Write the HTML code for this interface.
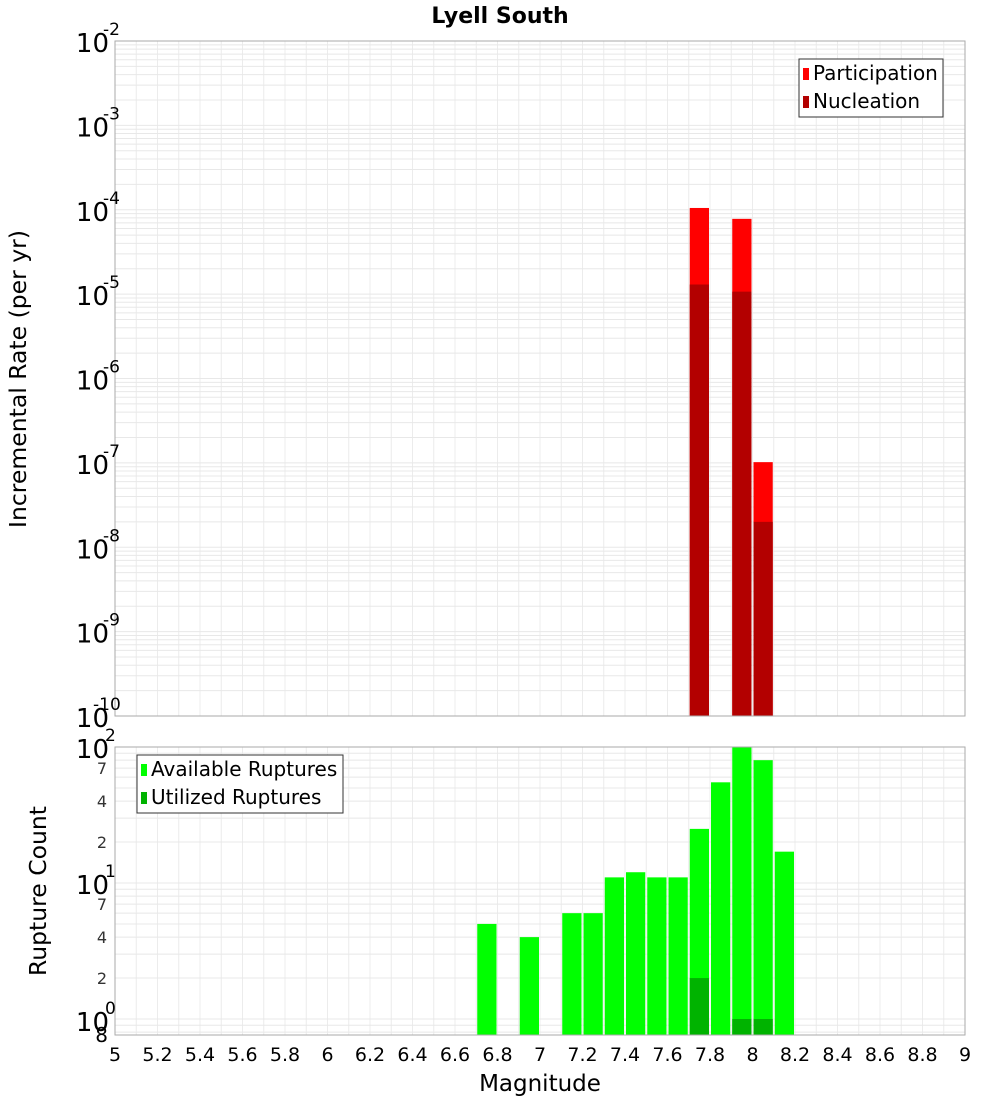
<!DOCTYPE html>
<html><head><meta charset="utf-8">
<style>
body{margin:0;background:#fff;}
svg{display:block;font-family:"DejaVu Sans","Liberation Sans",sans-serif;}
</style></head>
<body>
<svg id="chart" width="1000" height="1100"></svg>
<script>
// ---- data ----
const topMags = [7.75, 7.95, 8.05];
const participation = [1.05e-4, 7.8e-5, 1.02e-7];
const nucleation = [1.3e-5, 1.07e-5, 2.0e-8];
const botMags = [6.75, 6.95, 7.15, 7.25, 7.35, 7.45, 7.55, 7.65, 7.75, 7.85, 7.95, 8.05, 8.15];
const available = [5, 4, 6, 6, 11, 12, 11, 11, 25, 55, 100, 80, 17];
const utilMags = [7.75, 7.95, 8.05];
const utilized = [2, 1, 1];
const xTicks = [5,5.2,5.4,5.6,5.8,6,6.2,6.4,6.6,6.8,7,7.2,7.4,7.6,7.8,8,8.2,8.4,8.6,8.8,9];
const xTickLabels = ["5","5.2","5.4","5.6","5.8","6","6.2","6.4","6.6","6.8","7","7.2","7.4","7.6","7.8","8","8.2","8.4","8.6","8.8","9"];
const topExps = [-2,-3,-4,-5,-6,-7,-8,-9,-10];
const botMinor = [2,4,7,20,40,70];
const binWidth = 0.1;

const NS="http://www.w3.org/2000/svg";
const svg=document.getElementById('chart');
function mk(tag,attrs,parent){const e=document.createElementNS(NS,tag);for(const k in attrs)e.setAttribute(k,attrs[k]);(parent||svg).appendChild(e);return e;}

const L=115,R=965;
const T1=41,B1=716, T2=747,B2=1035;
const x=v=>L+(v-5)/4*(R-L);
const y1=v=>T1+(-2-Math.log10(v))/8*(B1-T1);
const dec2=136;
const y2=v=>Math.min(B2, T2+(2-Math.log10(v))*dec2);

let t=mk('text',{x:500,y:23,'text-anchor':'middle','font-size':22,'font-weight':'bold'});
t.textContent='Lyell South';



function grid(top,bot,yf,values,name){
  const g=mk('g',{});
  
  
  for(let v=5;v<=9.001;v+=0.1){const X=x(v);mk('line',{x1:X,x2:X,y1:top,y2:bot,stroke:'#ececec','stroke-width':1},g);}
  values.forEach(v=>{const Y=yf(v);if(Y>=top&&Y<=bot)mk('line',{x1:L,x2:R,y1:Y,y2:Y,stroke:'#e8e8e8','stroke-width':1},g);});
}
let tv=[];for(let e=-10;e<-2;e++)for(let m=1;m<10;m++)tv.push(m*Math.pow(10,e));
grid(T1,B1,y1,tv,'top-grid');
let bv=[];[0.1,1,10].forEach(d=>{for(let m=1;m<10;m++)bv.push(m*d)});bv.push(100);
grid(T2,B2,y2,bv,'bottom-grid');

const bw=binWidth*(R-L)/4;
function bar(mag,val,yf,base,color,name){
  const r=mk('rect',{x:x(mag)-bw/2+1,width:bw-2,y:yf(val),height:base-yf(val),fill:color});
  
  
}
topMags.forEach((m,i)=>bar(m,participation[i],y1,B1,'#ff0000','participation-bar'));
topMags.forEach((m,i)=>bar(m,nucleation[i],y1,B1,'#b30000','nucleation-bar'));
botMags.forEach((m,i)=>bar(m,available[i],y2,B2,'#00ff00','available-bar'));
utilMags.forEach((m,i)=>bar(m,utilized[i],y2,B2,'#00b300','utilized-bar'));

mk('rect',{x:L,y:T1,width:R-L,height:B1-T1,fill:'none',stroke:'#aaa'});
mk('rect',{x:L,y:T2,width:R-L,height:B2-T2,fill:'none',stroke:'#aaa'});

topExps.forEach(e=>{
  const Y=y1(Math.pow(10,e));
  const tx=mk('text',{x:109,y:Y+11,'text-anchor':'end','font-size':26});
  tx.textContent='10';
  
  
  const s=mk('text',{x:e===-10?93:103,y:Y-6,'text-anchor':'start','font-size':17});
  s.textContent=String(e);
  
  
});
[[100,'2'],[10,'1'],[1,'0']].forEach(([v,e])=>{
  const Y=v===1?1020:y2(v);
  const tx=mk('text',{x:109,y:Y+11,'text-anchor':'end','font-size':26});
  tx.textContent='10';
  
  
  const s=mk('text',{x:105,y:Y-6,'text-anchor':'start','font-size':17});
  s.textContent=e;
  
  
});
botMinor.forEach(v=>{
  const s=mk('text',{x:107,y:y2(v)+6,'text-anchor':'end','font-size':16,fill:'#333'});
  s.textContent=String(v).charAt(0);
  
  
});
let e8=mk('text',{x:108,y:1042,'text-anchor':'end','font-size':20});
e8.textContent='8';



xTicks.forEach((v,i)=>{
  const s=mk('text',{x:x(v),y:1061,'text-anchor':'middle','font-size':19});
  s.textContent=xTickLabels[i];
  
  
});
let xt=mk('text',{x:540,y:1091,'text-anchor':'middle','font-size':23});
xt.textContent='Magnitude';


let yt=mk('text',{x:0,y:0,'text-anchor':'middle','font-size':23.5,transform:'translate(26,379) rotate(-90)'});
yt.textContent='Incremental Rate (per yr)';


let yt2=mk('text',{x:0,y:0,'text-anchor':'middle','font-size':23.5,transform:'translate(46,891) rotate(-90)'});
yt2.textContent='Rupture Count';



function legend(x0,y0,w,items,name){
  const g=mk('g',{});
  
  
  mk('rect',{x:x0,y:y0,width:w,height:58,fill:'#fff',stroke:'#333','stroke-width':1},g);
  items.forEach((it,i)=>{
    mk('rect',{x:x0+4,y:y0+9+i*28,width:6,height:12,fill:it[1]},g);
    const s=mk('text',{x:x0+14,y:y0+21+i*28,'font-size':20},g);
    s.textContent=it[0];
  });
}
legend(799,59,144,[['Participation','#ff0000'],['Nucleation','#b30000']],'top-legend');
legend(137,755,206,[['Available Ruptures','#00ff00'],['Utilized Ruptures','#00b300']],'bottom-legend');
</script>
</body></html>
